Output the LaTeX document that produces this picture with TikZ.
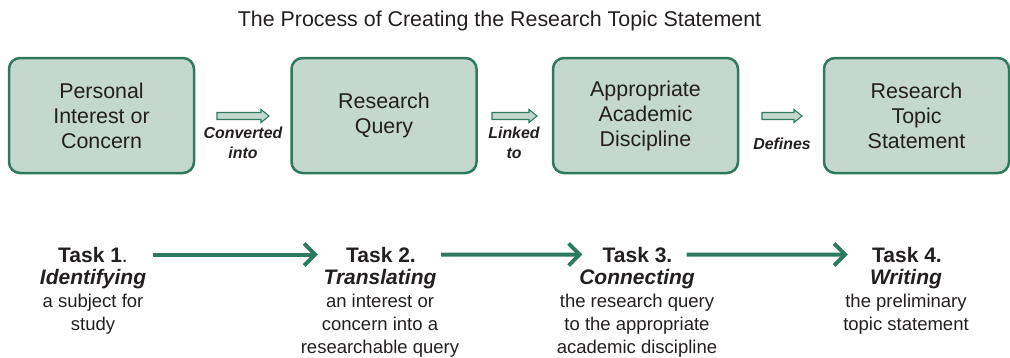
\documentclass[tikz,border=0pt]{standalone}
\usepackage{fontspec}
\setmainfont{Liberation Sans}
\usetikzlibrary{arrows.meta}
\definecolor{boxfill}{RGB}{197,216,207}
\definecolor{boxline}{RGB}{45,122,95}
\definecolor{txt}{RGB}{35,31,32}
\newcommand\hollowarrow[3]{%
  \filldraw[smallarr] (#1,#3-3.5) -- (#2-8,#3-3.5) -- (#2-8,#3-6.5) -- (#2,#3)
    -- (#2-8,#3+6.5) -- (#2-8,#3+3.5) -- (#1,#3+3.5) -- cycle;}
\begin{document}
\begin{tikzpicture}[x=1pt,y=-1pt,
  box/.style={draw=boxline, fill=boxfill, line width=2.5pt, rounded corners=11pt,
    minimum width=185pt, minimum height=115pt, align=center, text=txt,
    font=\fontsize{21.4}{25}\selectfont, inner sep=0pt},
  smallarr/.style={draw=boxline, fill=boxfill, line width=1.1pt, line join=miter},
  lbl/.style={font=\fontsize{15.9}{20}\selectfont\bfseries\itshape, text=txt, align=center, inner sep=0pt},
  taskhead/.style={font=\fontsize{21}{23}\selectfont\bfseries, text=txt, anchor=base, inner sep=0pt},
  taskbody/.style={font=\fontsize{18.5}{22.7}\selectfont, text=txt, align=center, anchor=north, inner sep=0pt},
  flow/.style={draw=boxline, line width=4pt, -{Straight Barb[length=11pt,width=22pt]}}
]
\useasboundingbox (0,0) rectangle (1010,357);

\node[font=\fontsize{21.4}{25}\selectfont, text=txt, anchor=base] (title) at (499.5,26) {The Process of Creating the Research Topic Statement};

\node[box] (b1) at (101.5,115.5) {Personal\\Interest or\\Concern};
\node[box] (b2) at (384,115.5) {Research\\Query};
\node[box] (b3) at (645.5,115.5) {Appropriate\\Academic\\Discipline};
\node[box] (b4) at (916.5,115.5) {Research\\Topic\\Statement};

\hollowarrow{217}{269}{116}
\hollowarrow{492}{537}{116}
\hollowarrow{762}{802}{116}

\node[lbl] (l1) at (243,143) {Converted\\into};
\node[lbl] (l2) at (514,143) {Linked\\to};
\node[lbl] (l3) at (782,144) {Defines};

\node[taskhead] (h1) at (93,262) {Task 1\textmd{.}};
\node[taskhead] (h2) at (381,262) {Task 2.};
\node[taskhead] (h3) at (637.5,262) {Task 3.};
\node[taskhead] (h4) at (907,262) {Task 4.};

\node[taskbody] (d1) at (93,269.5) {{\fontsize{21}{22.7}\selectfont\bfseries\itshape Identifying}\\a subject for\\study};
\node[taskbody] (d2) at (380,269.5) {{\fontsize{21}{22.7}\selectfont\bfseries\itshape Translating}\\an interest or\\concern into a\\researchable query};
\node[taskbody] (d3) at (637,269.5) {{\fontsize{21}{22.7}\selectfont\bfseries\itshape Connecting}\\the research query\\to the appropriate\\academic discipline};
\node[taskbody] (d4) at (906,269.5) {{\fontsize{21}{22.7}\selectfont\bfseries\itshape Writing}\\the preliminary\\topic statement};

\draw[flow, shorten <=25pt, shorten >=28pt] (h1.east) -- (h2.west);
\draw[flow, shorten <=25pt, shorten >=20pt] (h2.east) -- (h3.west);
\draw[flow, shorten <=14pt, shorten >=24pt] (h3.east) -- (h4.west);
\end{tikzpicture}
\end{document}
